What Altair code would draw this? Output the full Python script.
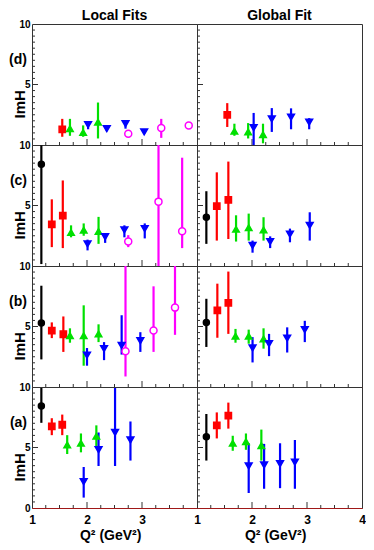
import altair as alt
import pandas as pd
import numpy as np

# ---------------- data ----------------
SERIES = ["k", "r", "g", "b", "m"]
COLORS = ["#000000", "#ff0000", "#00e000", "#0000ff", "#ff00ff"]
FILLS = ["#000000", "#ff0000", "#00e000", "#0000ff", "#ffffff"]
SHAPES = ["circle", "square", "triangle-up", "triangle-down", "circle"]
SIZES = [36, 49, 64, 64, 40]

ROW_LABELS = ["(d)", "(c)", "(b)", "(a)"]
COL_TITLES = ["Local Fits", "Global Fit"]
X_LABELS_LEFT = [1, 2, 3]
X_LABELS_RIGHT = [1, 2, 3, 4]
Y_LABELS = [5, 10]
Y_LABELS_BOTTOM = [0, 5, 10]

# row (d)
D_LOC_S = ["r", "g", "g", "b", "g", "b", "b", "m", "b", "m", "m"]
D_LOC_X = [1.55, 1.69, 1.93, 2.02, 2.20, 2.36, 2.70, 2.75, 3.04, 3.35, 3.85]
D_LOC_Y = [1.30, 1.35, 1.03, 1.68, 1.89, 1.35, 1.76, 0.92, 1.08, 1.41, 1.62]
D_LOC_LO = [0.68, 0.76, 0.68, 1.30, 0.54, 1.14, 1.35, 0.92, 0.95, 0.59, 1.45]
D_LOC_HI = [2.16, 2.16, 1.62, 1.89, 3.51, 1.57, 1.95, 0.92, 1.22, 2.16, 1.78]

D_GLB_S = ["r", "g", "g", "b", "g", "b", "b", "b"]
D_GLB_X = [1.55, 1.68, 1.93, 2.03, 2.20, 2.36, 2.71, 3.04]
D_GLB_Y = [2.49, 1.14, 1.08, 1.43, 0.86, 2.16, 2.30, 1.89]
D_GLB_LO = [1.49, 0.76, 0.54, 0.00, 0.14, 1.08, 1.30, 1.30]
D_GLB_HI = [3.46, 1.76, 1.81, 2.65, 1.76, 3.05, 3.03, 2.22]

# row (c)
C_LOC_S = ["k", "r", "r", "g", "g", "b", "g", "b", "b", "m", "b", "m", "m"]
C_LOC_X = [1.17, 1.36, 1.56, 1.71, 1.94, 2.01, 2.21, 2.33, 2.68, 2.75, 3.05, 3.30, 3.73]
C_LOC_Y = [8.41, 3.44, 4.17, 2.77, 2.96, 1.83, 2.85, 2.42, 2.98, 2.02, 3.09, 5.32, 2.88]
C_LOC_LO = [0.16, 1.56, 1.48, 2.37, 2.50, 1.29, 1.83, 1.91, 2.37, 1.56, 2.28, 0.00, 1.48]
C_LOC_HI = [9.97, 5.51, 7.07, 3.36, 3.52, 2.18, 4.06, 2.72, 3.36, 2.55, 3.52, 10.0, 8.95]

C_GLB_S = ["k", "r", "r", "g", "g", "b", "g", "b", "b", "b"]
C_GLB_X = [1.17, 1.36, 1.57, 1.71, 1.94, 2.01, 2.21, 2.33, 2.69, 3.05]
C_GLB_Y = [4.03, 4.95, 5.46, 3.04, 3.17, 1.69, 2.98, 2.02, 2.63, 3.36]
C_GLB_LO = [1.83, 2.10, 2.23, 2.02, 2.10, 1.10, 2.10, 1.48, 1.96, 2.10]
C_GLB_HI = [6.18, 7.74, 8.63, 4.19, 4.33, 2.10, 4.03, 2.45, 3.09, 4.44]

# row (b)
B_LOC_S = ["k", "r", "r", "g", "g", "b", "g", "b", "b", "m", "b", "m", "m"]
B_LOC_X = [1.17, 1.36, 1.57, 1.69, 1.94, 2.00, 2.21, 2.31, 2.63, 2.70, 2.97, 3.21, 3.60]
B_LOC_Y = [5.28, 4.66, 4.36, 4.25, 4.25, 2.63, 4.39, 3.17, 3.44, 2.95, 3.82, 4.66, 6.56]
B_LOC_LO = [2.28, 4.04, 2.90, 3.66, 1.76, 1.76, 3.71, 2.22, 2.68, 0.87, 2.90, 2.90, 4.31]
B_LOC_HI = [8.37, 5.34, 5.83, 4.85, 6.75, 3.22, 5.18, 3.71, 5.93, 10.0, 4.53, 8.32, 10.0]

B_GLB_S = ["k", "r", "r", "g", "g", "b", "g", "b", "b", "b"]
B_GLB_X = [1.17, 1.37, 1.57, 1.70, 1.94, 2.01, 2.21, 2.31, 2.64, 2.96]
B_GLB_Y = [5.34, 6.34, 6.96, 4.20, 4.20, 3.22, 3.98, 3.58, 4.04, 4.74]
B_GLB_LO = [3.31, 4.07, 4.39, 3.66, 3.58, 2.03, 3.17, 2.55, 2.85, 3.71]
B_GLB_HI = [7.29, 8.54, 9.54, 4.80, 4.74, 4.12, 4.85, 4.39, 4.93, 5.47]

# row (a)
A_LOC_S = ["k", "r", "r", "g", "g", "b", "g", "b", "b", "b"]
A_LOC_X = [1.17, 1.36, 1.55, 1.64, 1.89, 1.94, 2.17, 2.21, 2.51, 2.79]
A_LOC_Y = [8.44, 6.75, 6.88, 5.22, 5.35, 2.18, 5.94, 4.81, 6.24, 5.62]
A_LOC_LO = [7.04, 6.02, 6.02, 4.46, 4.60, 0.86, 5.08, 3.47, 3.47, 3.92]
A_LOC_HI = [9.92, 7.42, 7.72, 6.02, 6.16, 3.39, 6.83, 6.24, 9.92, 7.15]

A_GLB_S = ["k", "r", "r", "g", "g", "b", "g", "b", "b", "b"]
A_GLB_X = [1.17, 1.36, 1.57, 1.65, 1.89, 1.94, 2.17, 2.22, 2.51, 2.78]
A_GLB_Y = [5.89, 6.83, 7.63, 5.35, 5.48, 3.47, 5.16, 3.55, 3.66, 3.79]
A_GLB_LO = [3.92, 5.75, 6.56, 4.73, 4.81, 1.24, 3.92, 1.59, 1.64, 1.59]
A_GLB_HI = [7.77, 7.90, 8.71, 5.97, 6.16, 5.35, 6.48, 5.30, 5.35, 5.62]

PANELS = [
    [(D_LOC_S, D_LOC_X, D_LOC_Y, D_LOC_LO, D_LOC_HI), (D_GLB_S, D_GLB_X, D_GLB_Y, D_GLB_LO, D_GLB_HI)],
    [(C_LOC_S, C_LOC_X, C_LOC_Y, C_LOC_LO, C_LOC_HI), (C_GLB_S, C_GLB_X, C_GLB_Y, C_GLB_LO, C_GLB_HI)],
    [(B_LOC_S, B_LOC_X, B_LOC_Y, B_LOC_LO, B_LOC_HI), (B_GLB_S, B_GLB_X, B_GLB_Y, B_GLB_LO, B_GLB_HI)],
    [(A_LOC_S, A_LOC_X, A_LOC_Y, A_LOC_LO, A_LOC_HI), (A_GLB_S, A_GLB_X, A_GLB_Y, A_GLB_LO, A_GLB_HI)],
]

# axis tick positions (decoration)
Y_MINOR = [v for v in np.arange(0.5, 10.0, 0.5) if v != 5.0]
Y_MAJOR = [5.0]
X_MINOR = [v for v in np.arange(1.25, 4.0, 0.25) if abs(v - round(v)) > 1e-9]
X_MAJOR = [2.0, 3.0]

# ---------------- layout ----------------
W, H = 165, 121
FONT = "Liberation Sans"
TICK_COLOR = "#333333"
FRAME_RED = "#a01818"


def panel(data, row, col):
    s, x, y, lo, hi = data
    df = pd.DataFrame({"s": s, "x": x, "y": y, "lo": lo, "hi": hi})
    xs = alt.Scale(domain=[1, 4], nice=False, zero=False)
    ys = alt.Scale(domain=[0, 10], nice=False, zero=False)
    bottom = row == 3

    if bottom:
        xaxis = alt.Axis(
            values=X_LABELS_LEFT if col == 0 else X_LABELS_RIGHT,
            ticks=False, grid=False, domainColor=FRAME_RED,
            labelFont=FONT, labelFontSize=12, labelFontWeight="bold", labelColor="#000",
            labelPadding=6, labelFlush=False,
            title="Q² (GeV²)", titleFont=FONT, titleFontSize=14, titleFontWeight="bold",
            titleColor="#000", titleX=0.66 * W, titleY=31, titleAlign="right",
            titleBaseline="alphabetic",
        )
    else:
        xaxis = alt.Axis(labels=False, ticks=False, grid=False, title=None,
                         domainColor=FRAME_RED)

    if col == 0:
        yaxis = alt.Axis(
            values=Y_LABELS_BOTTOM if bottom else Y_LABELS,
            ticks=False, grid=False, domain=False,
            labelFont=FONT, labelFontSize=10, labelFontWeight="bold", labelColor="#000",
            labelPadding=2, labelFlush=False,
            title="ImH", titleFont=FONT, titleFontSize=15, titleFontWeight="bold",
            titleColor="#000", titleX=-13, titleY=0.66 * H, titleAngle=-90,
            titleAlign="center", titleBaseline="middle",
        )
    else:
        yaxis = None

    X = lambda f: alt.X(f, scale=xs, axis=xaxis)
    Y = lambda f: alt.Y(f, scale=ys, axis=yaxis)

    bars = alt.Chart(df).mark_rule(strokeWidth=2.2).encode(
        x=X("x:Q"), y=Y("lo:Q"), y2=alt.Y2("hi:Q"),
        color=alt.Color("s:N", scale=alt.Scale(domain=SERIES, range=COLORS), legend=None),
    )
    pts = alt.Chart(df).mark_point(filled=False, fillOpacity=1, opacity=1, strokeWidth=1.5).encode(
        x=X("x:Q"), y=Y("y:Q"),
        shape=alt.Shape("s:N", scale=alt.Scale(domain=SERIES, range=SHAPES), legend=None),
        fill=alt.Fill("s:N", scale=alt.Scale(domain=SERIES, range=FILLS), legend=None),
        stroke=alt.Stroke("s:N", scale=alt.Scale(domain=SERIES, range=COLORS), legend=None),
        size=alt.Size("s:N", scale=alt.Scale(domain=SERIES, range=SIZES), legend=None),
    )

    ymin = alt.Chart(pd.DataFrame({"v": Y_MINOR})).mark_rule(color=TICK_COLOR, strokeWidth=1).encode(
        y=Y("v:Q"), x=alt.value(0), x2=alt.value(3))
    ymaj = alt.Chart(pd.DataFrame({"v": Y_MAJOR})).mark_rule(color=TICK_COLOR, strokeWidth=1).encode(
        y=Y("v:Q"), x=alt.value(0), x2=alt.value(6))
    xmin = alt.Chart(pd.DataFrame({"v": X_MINOR})).mark_rule(color=TICK_COLOR, strokeWidth=1).encode(
        x=X("v:Q"), y=alt.value(H), y2=alt.value(H - 3))
    xmaj = alt.Chart(pd.DataFrame({"v": X_MAJOR})).mark_rule(color=TICK_COLOR, strokeWidth=1).encode(
        x=X("v:Q"), y=alt.value(H), y2=alt.value(H - 6))

    layers = [xmin, xmaj, ymin, ymaj, bars, pts]
    if col == 0:
        lab = alt.Chart(pd.DataFrame({"t": [ROW_LABELS[row]], "v": [7.0]})).mark_text(
            align="right", baseline="middle", font=FONT, fontSize=14, fontWeight="bold", color="#000"
        ).encode(x=alt.value(-5), y=Y("v:Q"), text="t:N")
        layers.append(lab)
    if row == 0:
        ttl = alt.Chart(pd.DataFrame({"t": [COL_TITLES[col]]})).mark_text(
            align="center", baseline="bottom", font=FONT, fontSize=14, fontWeight="bold", color="#000"
        ).encode(x=alt.value(W / 2), y=alt.value(-1), text="t:N")
        layers.append(ttl)

    return alt.layer(*layers).properties(width=W, height=H)


panels = []
for r in range(4):
    for c in range(2):
        panels.append(panel(PANELS[r][c], r, c))

chart = alt.concat(*panels, columns=2, spacing=0, bounds="flush").properties(
    padding=0
).configure_view(stroke="#333333", strokeWidth=1).configure_concat(spacing=0)

chart.save("out.html", embed_options={"renderer": "svg", "actions": False})
